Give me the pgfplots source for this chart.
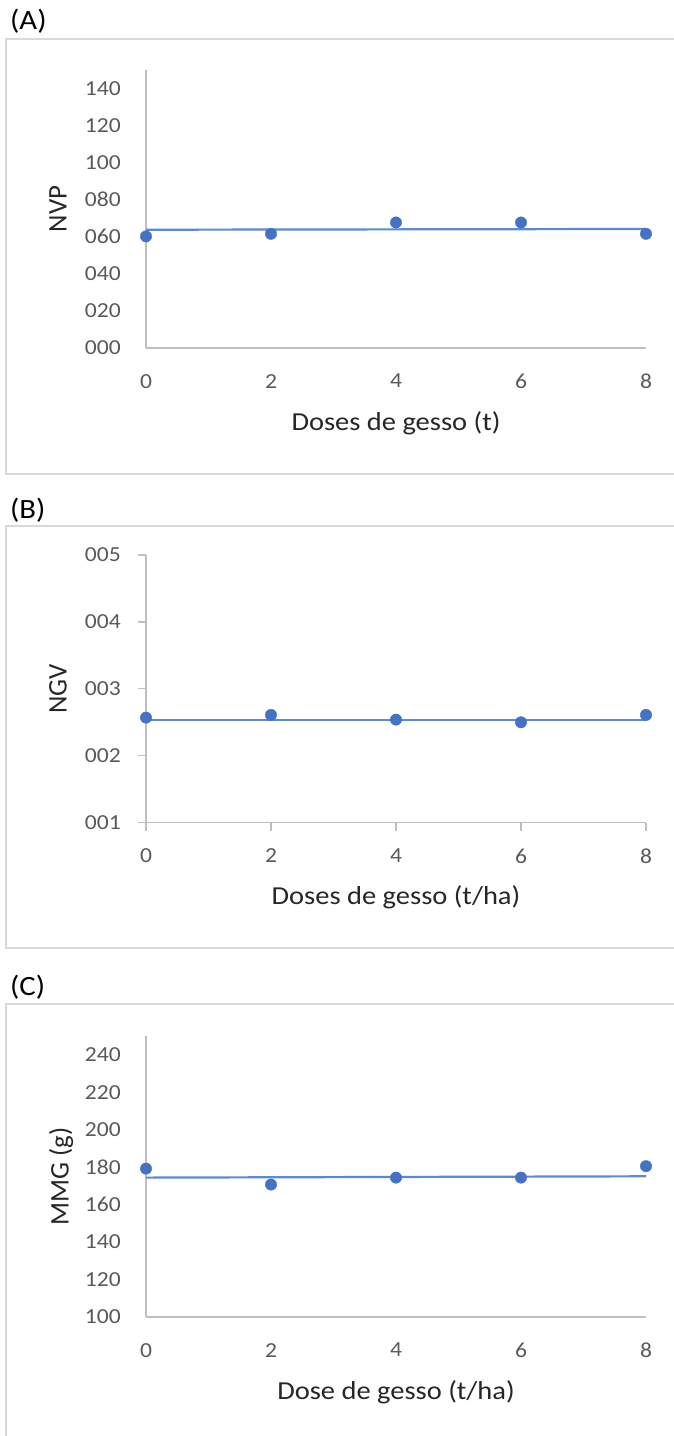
\documentclass[border=0pt]{standalone}
\usepackage{fontspec}
\setmainfont{Carlito}[FakeStretch=1.1]
\newfontfamily\ylfont{Carlito}
\usepackage{pgfplots}
\pgfplotsset{compat=1.18}
\definecolor{ptblue}{HTML}{4472C4}
\definecolor{trblue}{HTML}{5A8AD6}
\definecolor{axgray}{HTML}{BFBFBF}
\definecolor{boxgray}{HTML}{D9D9D9}
\definecolor{tickgray}{HTML}{595959}
\definecolor{titlegray}{HTML}{262626}
\pgfplotsset{
  panel/.style={
    scale only axis, width=500bp, clip=false,
    xmin=0, xmax=8,
    axis x line=bottom, axis y line=left,
    axis line style={draw=axgray, line width=1.3bp, -},
    xtick={0,2,4,6,8}, xticklabels={0,2,4,6,8},
    major tick length=0pt,
    tick label style={font=\fontsize{21.5}{24}\selectfont, text=tickgray},
    xticklabel style={anchor=north, inner sep=0pt, yshift=-26bp},
    yticklabel style={anchor=east, inner sep=0pt, xshift=-25bp},
    label style={text=titlegray},
    xlabel style={font=\fontsize{26}{30}\selectfont, anchor=center},
    ylabel style={font=\ylfont\fontsize{27}{30}\selectfont, anchor=center, rotate=0},
  },
  pts/.style={only marks, mark=*, mark size=5.7bp, mark options={draw=ptblue, fill=ptblue}},
  trend/.style={no marks, draw=trblue, line width=2.2bp},
}
\begin{document}
\begin{tikzpicture}[x=1bp,y=1bp]
\useasboundingbox (0,0) rectangle (674,1436);
% panel frames
\draw[boxgray, line width=1.5bp] (700,1436-39) -- (6,1436-39) -- (6,1436-474) -- (700,1436-474);
\draw[boxgray, line width=1.5bp] (700,1436-526) -- (6,1436-526) -- (6,1436-948) -- (700,1436-948);
\draw[boxgray, line width=1.5bp] (700,1436-1004) -- (6,1436-1004) -- (6,-10);
\node[anchor=west, inner sep=0pt, font=\fontsize{28}{30}\selectfont] at (10,1436-21.5) {(A)};
\node[anchor=west, inner sep=0pt, font=\fontsize{28}{30}\selectfont] at (10,1436-510) {(B)};
\node[anchor=west, inner sep=0pt, font=\fontsize{28}{30}\selectfont] at (10,1436-987) {(C)};

% (A)
\begin{axis}[panel, at={(146bp,1088bp)}, anchor=south west, height=278bp,
  ymin=0, ymax=150, ytick={0,20,40,60,80,100,120,140},
  yticklabels={000,020,040,060,080,100,120,140},
  xlabel={Doses de gesso (t)}, ylabel={NVP},
  xlabel style={at={(axis description cs:0.5,-0.27)}},
  ylabel style={at={(axis description cs:-0.176,0.5)}}]
\addplot[trend] coordinates {(0,63.8) (8,64.2)};
\addplot[pts] coordinates {(0,60.2) (2,61.6) (4,67.7) (6,67.7) (8,61.6)};
\end{axis}

% (B)
\begin{axis}[panel, at={(146bp,613.3bp)}, anchor=south west, height=267.7bp,
  ymin=1, ymax=5, ytick={1,2,3,4,5},
  yticklabels={001,002,003,004,005},
  tick align=outside, major tick length=8bp,
  every tick/.style={draw=axgray, line width=1.3bp},
  xticklabel style={yshift=8bp}, yticklabel style={xshift=8bp},
  xlabel={Doses de gesso (t/ha)}, ylabel={NGV},
  xlabel style={at={(axis description cs:0.5,-0.278)}},
  ylabel style={at={(axis description cs:-0.176,0.5)}}]
\addplot[trend] coordinates {(0,2.53) (8,2.53)};
\addplot[pts] coordinates {(0,2.57) (2,2.61) (4,2.54) (6,2.50) (8,2.61)};
\end{axis}

% (C)
\begin{axis}[panel, at={(146bp,119bp)}, anchor=south west, height=281bp,
  ymin=100, ymax=250, ytick={100,120,140,160,180,200,220,240},
  yticklabels={100,120,140,160,180,200,220,240},
  xlabel={Dose de gesso (t/ha)}, ylabel={MMG (g)},
  xlabel style={at={(axis description cs:0.5,-0.267)}},
  ylabel style={at={(axis description cs:-0.17,0.5)}}]
\addplot[trend] coordinates {(0,174.4) (8,175.1)};
\addplot[pts] coordinates {(0,179.2) (2,170.7) (4,174.4) (6,174.4) (8,180.5)};
\end{axis}
\end{tikzpicture}
\end{document}
